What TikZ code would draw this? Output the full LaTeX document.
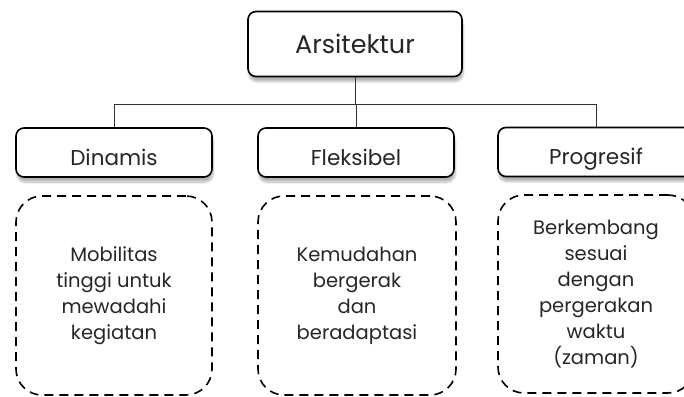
\documentclass[tikz,border=0pt]{standalone}
\usepackage{fontspec}
\setmainfont{Poppins}
\usetikzlibrary{positioning,shadows.blur}

\tikzstyle{head} = [rectangle, draw, line width=1.6pt, rounded corners=8pt, fill=white, text=black!85,
    blur shadow={shadow blur steps=10, shadow xshift=1pt, shadow yshift=-5pt, shadow opacity=30}]
\tikzstyle{aspect} = [head, minimum width=196pt, minimum height=49pt, text height=25pt, text depth=0pt,
    font=\fontsize{21.5}{24}\selectfont]
\tikzstyle{detail} = [rectangle, draw, line width=1.6pt, dash pattern=on 9pt off 6pt, rounded corners=26pt,
    minimum width=196pt, minimum height=199pt, align=center, text=black!85, font=\fontsize{19.5}{26}\selectfont]
\tikzstyle{link} = [draw=black!80, line width=0.8pt]

\begin{document}
\begin{tikzpicture}[x=1pt, y=-1pt]
        \clip (0,0) rectangle (684,396);
        \useasboundingbox (0,0) rectangle (684,396);
        % Top node
        \node (arch) at (355,44) [head, minimum width=214pt, minimum height=65pt, font=\fontsize{25.5}{28}\selectfont] {Arsitektur};
        % Three properties
        \node (dyn)  at (114,152.5) [aspect] {Dinamis};
        \node (flex) at (356,152.5) [aspect] {Fleksibel};
        \node (prog) at (596,152) [aspect] {Progresif};
        % Descriptions
        \node (dynD)  at (114,295.5) [detail] {Mobilitas\\tinggi untuk\\mewadahi\\kegiatan};
        \node (flexD) at (357,295.5) [detail, minimum width=198pt] {Kemudahan\\bergerak\\dan\\beradaptasi};
        \node (progD) at (596,294) [detail, minimum height=198pt] {Berkembang\\sesuai\\dengan\\pergerakan\\waktu\\(zaman)};
        % Connectors
        \draw[link] (arch.south) -- ++(0,27.5) coordinate (hub);
        \draw[link] (dyn.north) |- (hub);
        \draw[link] (flex.north) |- (hub);
        \draw[link] (prog.north) |- (hub);
\end{tikzpicture}
\end{document}
